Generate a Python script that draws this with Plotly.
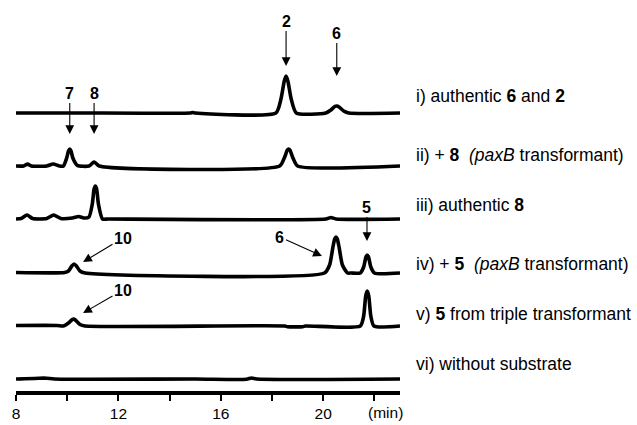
import plotly.graph_objects as go

# ---- data: retention time (min) and detector signal (relative units) ----
t_i = [8, 9.5, 10.5, 14.8, 14.9, 15.0, 18.15, 18.35, 18.48, 18.55, 18.62, 18.75, 18.95,
       20.1, 20.3, 20.45, 20.53, 20.62, 20.8, 21.0, 23]
s_i = [0, 0, 0, 0, 0.5, 0, 0, 14, 32, 37, 32, 14, 0,
       0, 3, 6.5, 7, 6, 2, 0, 0]

t_ii = [8, 8.3, 8.45, 8.6, 9.2, 9.45, 9.7, 9.85, 9.98, 10.05, 10.1, 10.15, 10.22, 10.4,
        10.85, 11.05, 11.25, 18.3, 18.48, 18.6, 18.65, 18.7, 18.82, 19.0, 23]
s_ii = [0, 0, 2, 0, 0, 2, 0, 0, 8, 15, 17, 15, 8, 0.5,
        0, 4, 0, 0, 8, 16, 17, 16, 8, 0, 0]

t_iii = [8, 8.2, 8.43, 8.65, 9.2, 9.47, 9.75, 10.2, 10.45, 10.65, 10.85, 10.98, 11.05,
         11.1, 11.15, 11.22, 11.38, 11.6, 20.1, 20.3, 20.5, 23]
s_iii = [0, 0.5, 4, 0.5, 0.5, 4, 0.5, 1, 2.5, 1, 2, 15, 30,
         33, 30, 15, 0, 0, 0, 1.5, 0, 0]

t_iv = [8, 9.9, 10.05, 10.18, 10.27, 10.36, 10.5, 10.7, 20.05, 20.25, 20.38, 20.45, 20.5,
        20.55, 20.62, 20.75, 20.95, 21.1, 21.45, 21.58, 21.67, 21.72, 21.77, 21.86, 22.0, 23]
s_iv = [0.5, 0.5, 2, 7, 9, 7, 2, 0, 0, 8, 26, 34, 36,
        34, 26, 8, 0, 0, 0, 6, 16, 18, 16, 6, 0, 0]

t_v = [8, 9.6, 9.85, 10.05, 10.2, 10.25, 10.32, 10.5, 10.7, 18.5, 18.6, 19.2, 19.3,
       21.45, 21.58, 21.66, 21.72, 21.78, 21.86, 21.98, 23]
s_v = [0.5, 0.5, 0, 3, 6.5, 7, 6, 1.5, 0, 0, -0.7, -0.7, 0,
       0, 10, 30, 35, 30, 10, 0, 0]

t_vi = [8, 8.9, 9.2, 9.5, 15, 17.0, 17.2, 17.4, 23]
s_vi = [0, 0.8, 0.8, 0, 0, -0.3, 1, 0, 0]

trace_names = ["i", "ii", "iii", "iv", "v", "vi"]
trace_labels = [
    "i) authentic <b>6</b> and <b>2</b>",
    "ii) + <b>8</b>  <i>(paxB</i> transformant)",
    "iii) authentic <b>8</b>",
    "iv) + <b>5</b>  <i>(paxB</i> transformant)",
    "v) <b>5</b> from triple transformant",
    "vi) without substrate",
]
offsets = [278, 225, 172, 118, 65, 12]
label_y = [295, 236, 186, 127, 77, 27]

tick_vals = [8, 10, 12, 14, 16, 18, 20, 22]
tick_text = ["8", "", "12", "", "16", "", "20", ""]

# peak labels: (text, label x, label y, arrow head x, arrow head y)
peak_marks = [
    ("2", 18.55, 370, 18.55, 325),
    ("6", 20.53, 358, 20.53, 315),
    ("7", 10.1, 298, 10.1, 257),
    ("8", 11.05, 298, 11.05, 257),
    ("10", 12.18, 153, 10.62, 129),
    ("6", 18.31, 154, 19.95, 135),
    ("5", 21.71, 184, 21.71, 150),
    ("10", 12.18, 101, 10.62, 78),
]

series = [(t_i, s_i), (t_ii, s_ii), (t_iii, s_iii), (t_iv, s_iv), (t_v, s_v), (t_vi, s_vi)]

FONT = "Liberation Sans, Arial, Helvetica, sans-serif"

fig = go.Figure()
for name, (t, s), off in zip(trace_names, series, offsets):
    fig.add_trace(go.Scatter(
        x=t, y=[v + off for v in s], mode="lines", name=name,
        line=dict(color="black", width=3.6, shape="spline", smoothing=0.6),
        showlegend=False, hoverinfo="skip",
    ))

annotations = []
for txt, y in zip(trace_labels, label_y):
    annotations.append(dict(
        text=txt, xref="paper", x=(414 - 16) / 384, yref="y", y=y,
        xanchor="left", yanchor="middle", showarrow=False,
        font=dict(family=FONT, size=17.5, color="black"),
    ))

for txt, lx, ly, hx, hy in peak_marks:
    annotations.append(dict(
        text=f"<b>{txt}</b>", x=hx, y=hy, xref="x", yref="y",
        ax=lx, ay=ly, axref="x", ayref="y",
        showarrow=True, arrowhead=2, arrowsize=1.6, arrowwidth=1.1,
        arrowcolor="black", borderpad=1,
        font=dict(family=FONT, size=16, color="black"),
    ))

annotations.append(dict(
    text="(min)", xref="x", x=22.44, yref="paper", y=0, yshift=-21,
    xanchor="center", yanchor="middle", showarrow=False,
    font=dict(family=FONT, size=15.5, color="black"),
))

fig.update_layout(
    width=637, height=425,
    margin=dict(l=16, r=237, t=0, b=34),
    paper_bgcolor="white", plot_bgcolor="white",
    xaxis=dict(
        range=[8, 23], showgrid=False, zeroline=False,
        showline=True, linewidth=3.6, linecolor="black",
        ticks="outside", ticklen=6, tickwidth=2.2, tickcolor="black",
        tickvals=tick_vals, ticktext=tick_text,
        tickfont=dict(family=FONT, size=15.5, color="black"),
    ),
    yaxis=dict(range=[0, 391], visible=False, showgrid=False, zeroline=False),
    annotations=annotations,
)

fig.write_html("out.html", config={"displayModeBar": False},
               post_script="document.body.style.margin='0';")
